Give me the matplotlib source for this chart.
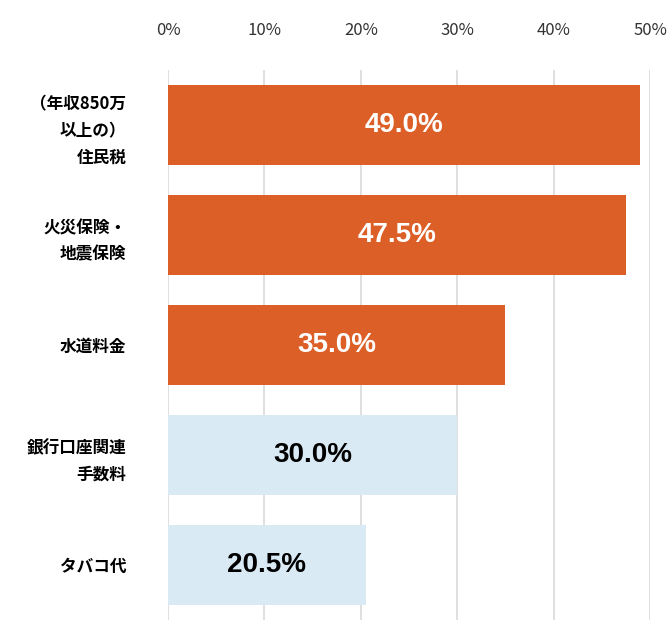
#!/usr/bin/env python3
"""Horizontal bar chart of cost items (percent)."""

import matplotlib

matplotlib.use("Agg")
import matplotlib.pyplot as plt
import matplotlib.ticker as mticker

plt.rcParams["font.family"] = ["Noto Sans CJK JP", "DejaVu Sans"]

CATEGORIES = ["（年収850万\n以上の）\n住民税", "火災保険・\n地震保険", "水道料金", "銀行口座関連\n手数料", "タバコ代"]
VALUES = [49.0, 47.5, 35.0, 30.0, 20.5]
HIGHLIGHT = [True, True, True, False, False]
X_TICKS = [0, 10, 20, 30, 40, 50]

ORANGE = "#DD5F28"
LIGHT_BLUE = "#D9EAF4"
GRID = "#D9D9D9"

fig = plt.figure(figsize=(6.7, 6.42), dpi=100)
ax = fig.add_axes([168 / 670, 1 - 620 / 642, (650 - 168) / 670, 550 / 642])

y = list(range(len(CATEGORIES)))
colors = [ORANGE if h else LIGHT_BLUE for h in HIGHLIGHT]
ax.barh(y, VALUES, height=0.72, color=colors, zorder=3)

for yi, v, h in zip(y, VALUES, HIGHLIGHT):
    ax.text(v / 2, yi, f"{v:.1f}%", ha="center", va="center",
            fontsize=20, fontweight="bold", color="white" if h else "black",
            family="Liberation Sans", zorder=4)

ax.set_xlim(0, 50)
ax.set_ylim(4.5, -0.5)
ax.set_xticks(X_TICKS)
ax.xaxis.set_major_formatter(mticker.FuncFormatter(lambda v, _: f"{v:.0f}%"))
ax.xaxis.tick_top()
ax.tick_params(axis="x", length=0, labelsize=12, pad=22, colors="#333333")
ax.set_yticks(y)
ax.set_yticklabels(CATEGORIES, fontsize=12, fontweight="bold", linespacing=1.6)
ax.tick_params(axis="y", length=0, pad=30)
ax.grid(axis="x", color=GRID, linewidth=1.2, zorder=0)
for s in ax.spines.values():
    s.set_visible(False)

fig.savefig("out.png", dpi=100)
